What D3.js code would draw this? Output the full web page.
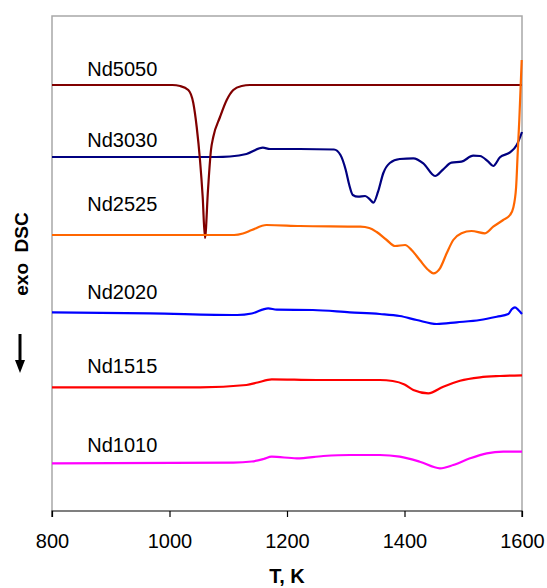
<!DOCTYPE html>
<html>
<head>
<meta charset="utf-8">
<script src="https://cdnjs.cloudflare.com/ajax/libs/d3/7.8.5/d3.min.js"></script>
<style>
  body { margin: 0; background: #fff; }
  text { font-family: Arial, "Liberation Sans", sans-serif; }
</style>
</head>
<body>
<div id="chart"></div>
<script>
// DSC curves, signal in arbitrary units (no y ticks on the original)
var seriesNames = ["Nd5050", "Nd3030", "Nd2525", "Nd2020", "Nd1515", "Nd1010"];
var seriesColors = ["#800000", "#000080", "#ff6600", "#0000ff", "#ff0000", "#ff00ff"];
var xTicks = [800, 1000, 1200, 1400, 1600];

var tNd5050 = [800, 1005, 1018, 1032, 1040.5, 1046.3, 1051.9, 1056.5, 1060.4, 1065.5, 1070.6, 1074.5, 1086, 1097.4, 1108.6, 1122.9, 1137, 1600];
var dscNd5050 = [425, 425, 424, 420, 407, 383, 350, 313, 272, 320, 360, 373, 393, 410, 420, 424, 425, 425];

var tNd3030 = [800, 1079, 1103, 1131, 1159, 1171, 1222, 1280, 1291, 1300, 1306, 1312, 1321, 1333, 1341, 1347, 1355, 1364, 1375, 1392, 1415, 1432, 1452, 1466, 1480, 1497, 1517, 1528.5, 1542.6, 1551, 1562.5, 1579.6, 1591, 1600];
var dscNd3030 = [353, 353, 353.5, 356, 362.3, 361, 361, 360.5, 355, 340, 325, 315, 313.3, 314, 310.7, 307.3, 318.3, 337, 347, 351, 351.7, 346.7, 334, 340.7, 347.3, 348.3, 354.3, 354, 348.3, 344, 352.7, 357.7, 365, 378];

var tNd2525 = [800, 1110, 1125, 1140, 1165, 1222, 1325, 1340, 1352.7, 1369.7, 1384, 1401, 1412, 1426, 1440.5, 1449, 1460.4, 1471.8, 1483, 1497, 1514, 1537, 1551, 1568, 1579.6, 1585, 1590, 1592.7, 1595.4, 1599.5];
var dscNd2525 = [275, 275, 276.5, 280, 285, 284, 283.3, 282, 278, 270, 264, 265, 260, 250, 240, 236.7, 241.7, 256.7, 270, 276.7, 279, 276.7, 283.3, 290, 295, 302, 323, 357, 390, 450];

var tNd2020 = [800, 967, 1115, 1140, 1168, 1182.5, 1244, 1307, 1358, 1392, 1420.8, 1454.8, 1488.8, 1528.5, 1557, 1576.7, 1582.5, 1588, 1593.7, 1600];
var dscNd2020 = [197.7, 196.7, 195, 196.5, 201.7, 200.3, 200, 197.7, 196, 194, 190, 186, 187.7, 190, 193.3, 196, 200.7, 202.7, 200, 196];

var tNd1515 = [800, 1052, 1131, 1150, 1174, 1250.5, 1358, 1380, 1400, 1415, 1440.5, 1466, 1494.5, 1528.5, 1562.5, 1600];
var dscNd1515 = [122.7, 122.7, 125, 127.5, 130.7, 130, 130, 129, 125.5, 120, 116.7, 123.3, 129.3, 132.7, 134, 134.7];

var tNd1010 = [800, 1108.6, 1140, 1160, 1174, 1216.5, 1261.8, 1307, 1358, 1392, 1426, 1460.4, 1483, 1511.5, 1540, 1568, 1600];
var dscNd1010 = [46.7, 47.3, 48.5, 51, 53.3, 51.7, 54, 55, 55, 53.3, 48.3, 41.7, 45, 51.7, 56.7, 58.3, 58.3];

// label baselines in signal units
var labelLevels = [434, 363, 299, 211, 137, 58];

var allT = [tNd5050, tNd3030, tNd2525, tNd2020, tNd1515, tNd1010];
var allDsc = [dscNd5050, dscNd3030, dscNd2525, dscNd2020, dscNd1515, dscNd1010];

var svgWidth = 547;
var svgHeight = 588;
var margin = { top: 16, right: 25, bottom: 77, left: 52 };
var width = svgWidth - margin.left - margin.right;
var height = svgHeight - margin.top - margin.bottom;

var svg = d3.select("#chart")
  .append("svg")
  .attr("width", svgWidth)
  .attr("height", svgHeight);

var chartGroup = svg.append("g")
  .attr("transform", `translate(${margin.left}, ${margin.top})`);

var xScale = d3.scaleLinear()
  .domain([800, 1600])
  .range([0, width]);

var yScale = d3.scaleLinear()
  .domain([-1, 494])
  .range([height, 0]);

// grey frame on left, top and right
chartGroup.append("path")
  .attr("d", `M0,${height}V0H${width}V${height}`)
  .attr("fill", "none")
  .attr("stroke", "#a8a8a8")
  .attr("stroke-width", 1.5);

// bottom axis
var bottomAxis = d3.axisBottom(xScale)
  .tickValues(xTicks)
  .tickSize(6)
  .tickPadding(17)
  .tickFormat(d3.format("d"));

var xAxisGroup = chartGroup.append("g")
  .attr("transform", `translate(0, ${height})`)
  .call(bottomAxis);

xAxisGroup.select(".domain")
  .attr("d", `M0,6V0H${width}V6`)
  .attr("stroke", "#000")
  .attr("stroke-width", 1.2);
xAxisGroup.selectAll(".tick line").attr("stroke", "#000").attr("stroke-width", 1.2);
xAxisGroup.selectAll(".tick text")
  .attr("font-size", "20px")
  .attr("font-family", "Arial, 'Liberation Sans', sans-serif")
  .attr("fill", "#000");

// the curves
var line = d3.line()
  .x(d => xScale(d[0]))
  .y(d => yScale(d[1]))
  .curve(d3.curveMonotoneX);

var drawOrder = [5, 4, 3, 1, 0, 2];
drawOrder.forEach(function (i) {
  var pts = allT[i].map((t, j) => [t, allDsc[i][j]]);
  chartGroup.append("path")
    .datum(pts)
    .attr("d", line)
    .attr("fill", "none")
    .attr("stroke", seriesColors[i])
    .attr("stroke-width", 2.2)
    .attr("stroke-linejoin", "round");
});

// curve names
chartGroup.selectAll(".seriesLabel")
  .data(seriesNames)
  .enter()
  .append("text")
  .attr("class", "seriesLabel")
  .attr("x", xScale(860))
  .attr("y", (d, i) => yScale(labelLevels[i]))
  .attr("font-size", "20px")
  .attr("fill", "#000")
  .text(d => d);

// axis labels
svg.append("text")
  .attr("x", margin.left + width / 2)
  .attr("y", 583)
  .attr("text-anchor", "middle")
  .attr("font-size", "20px")
  .attr("font-weight", "bold")
  .text("T, K");

svg.append("text")
  .attr("transform", "translate(28, 254) rotate(-90)")
  .attr("text-anchor", "middle")
  .attr("font-size", "19px")
  .attr("font-weight", "bold")
  .attr("xml:space", "preserve")
  .style("white-space", "pre")
  .text("exo  DSC");

// downward arrow under the y label
svg.append("line")
  .attr("x1", 20).attr("x2", 20)
  .attr("y1", 334).attr("y2", 362)
  .attr("stroke", "#000")
  .attr("stroke-width", 3);
svg.append("path")
  .attr("d", "M15,360L25,360L20,373Z")
  .attr("fill", "#000");
</script>
</body>
</html>
